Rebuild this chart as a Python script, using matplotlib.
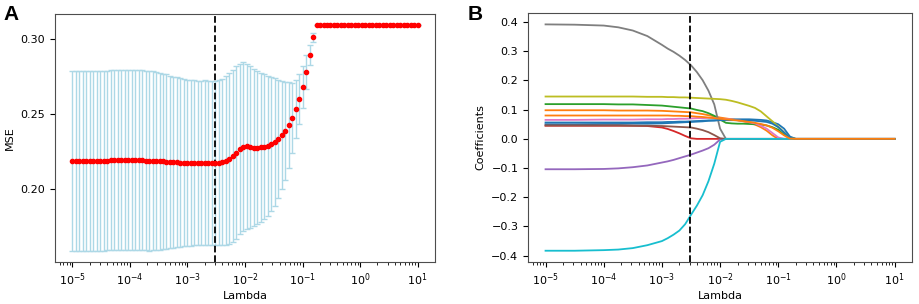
import matplotlib

matplotlib.use("Agg")
import matplotlib.pyplot as plt
import numpy as np

# ---- panel A: cross-validated MSE along the lambda path (100 log-spaced lambdas)
lambdas = np.logspace(-5, 1, 100)
mse_mean = [
    0.2190, 0.2190, 0.2190, 0.2190, 0.2190, 0.2190, 0.2190, 0.2190, 0.2191, 0.2191,
    0.2192, 0.2193, 0.2194, 0.2195, 0.2195, 0.2195, 0.2195, 0.2195, 0.2194, 0.2194,
    0.2193, 0.2192, 0.2191, 0.2190, 0.2189, 0.2188, 0.2186, 0.2185, 0.2183, 0.2181,
    0.2180, 0.2178, 0.2177, 0.2175, 0.2176, 0.2178, 0.2177, 0.2176, 0.2178, 0.2177,
    0.2176, 0.2176, 0.2177, 0.2182, 0.2192, 0.2205, 0.2222, 0.2245, 0.2268, 0.2282,
    0.2286, 0.2282, 0.2278, 0.2278, 0.2280, 0.2283, 0.2290, 0.2300, 0.2316, 0.2335,
    0.2360, 0.2388, 0.2427, 0.2475, 0.2534, 0.2600, 0.2678, 0.2781, 0.2893, 0.3007,
] + [0.3088] * 30
mse_err = [0.0596] * 23 + [
    0.0594, 0.0590, 0.0586, 0.0582, 0.0577, 0.0572, 0.0567, 0.0562, 0.0558,
    0.0554, 0.0551, 0.0548, 0.0546, 0.0545, 0.0545, 0.0545, 0.0545, 0.0545, 0.0545,
    0.0548, 0.0553, 0.0558, 0.0565, 0.0572, 0.0570, 0.0565, 0.0560, 0.0548, 0.0535,
    0.0522, 0.0508, 0.0495, 0.0480, 0.0465, 0.0445, 0.0425, 0.0390, 0.0359, 0.0322,
    0.0284, 0.0233, 0.0194, 0.0168, 0.0141, 0.0113, 0.0066, 0.0027,
] + [0.0] * 30
best_lambda = 0.00305

# ---- panel B: coefficient paths, read at these log10(lambda) positions
path_exp = [-5, -4.5, -4, -3.75, -3.5, -3.25, -3.0, -2.9, -2.8, -2.7, -2.6, -2.5,
            -2.4, -2.3, -2.2, -2.1, -2.0, -1.9, -1.8, -1.7, -1.6, -1.5, -1.4, -1.3,
            -1.2, -1.1, -1.0, -0.9, -0.8, -0.7, 1]
coef_paths = [
    # C0 blue
    [0.050, 0.050, 0.051, 0.051, 0.052, 0.052, 0.053, 0.054, 0.055, 0.056, 0.057, 0.058,
     0.059, 0.060, 0.062, 0.063, 0.065, 0.066, 0.067, 0.067, 0.067, 0.067, 0.066, 0.065,
     0.063, 0.057, 0.050, 0.035, 0.008, 0, 0],
    # C1 orange
    [0.098, 0.098, 0.098, 0.097, 0.097, 0.097, 0.096, 0.095, 0.094, 0.093, 0.092, 0.091,
     0.088, 0.085, 0.081, 0.077, 0.073, 0.070, 0.067, 0.064, 0.060, 0.055, 0.049, 0.040,
     0.028, 0.012, 0, 0, 0, 0, 0],
    # C2 green
    [0.119, 0.119, 0.119, 0.118, 0.118, 0.116, 0.114, 0.112, 0.110, 0.108, 0.106, 0.104,
     0.099, 0.095, 0.088, 0.079, 0.066, 0.055, 0.053, 0.052, 0.052, 0.051, 0.050, 0.049,
     0.046, 0.040, 0.031, 0.015, 0.002, 0, 0],
    # C3 red
    [0.045, 0.045, 0.045, 0.045, 0.045, 0.044, 0.039, 0.034, 0.027, 0.019, 0.010, 0.002,
     0, 0, 0, 0, 0, 0, 0, 0, 0, 0, 0, 0,
     0, 0, 0, 0, 0, 0, 0],
    # C4 purple
    [-0.104, -0.104, -0.103, -0.101, -0.097, -0.091, -0.081, -0.077, -0.072, -0.066,
     -0.060, -0.054, -0.047, -0.040, -0.032, -0.020, -0.002, 0, 0, 0, 0, 0, 0, 0,
     0, 0, 0, 0, 0, 0, 0],
    # C5 brown
    [0.046, 0.046, 0.046, 0.046, 0.045, 0.045, 0.044, 0.043, 0.042, 0.041, 0.040, 0.039,
     0.035, 0.030, 0.023, 0.013, 0.002, 0, 0, 0, 0, 0, 0, 0,
     0, 0, 0, 0, 0, 0, 0],
    # C6 pink
    [0.065, 0.065, 0.066, 0.066, 0.066, 0.067, 0.067, 0.068, 0.068, 0.069, 0.069, 0.070,
     0.071, 0.071, 0.072, 0.071, 0.069, 0.068, 0.066, 0.064, 0.061, 0.057, 0.053, 0.045,
     0.035, 0.020, 0.005, 0, 0, 0, 0],
    # C7 gray
    [0.392, 0.391, 0.388, 0.382, 0.371, 0.352, 0.322, 0.309, 0.298, 0.285, 0.270, 0.252,
     0.229, 0.201, 0.165, 0.118, 0.035, 0, 0, 0, 0, 0, 0, 0,
     0, 0, 0, 0, 0, 0, 0],
    # C8 olive
    [0.145, 0.145, 0.145, 0.145, 0.145, 0.144, 0.144, 0.143, 0.143, 0.142, 0.142, 0.141,
     0.140, 0.139, 0.138, 0.137, 0.136, 0.134, 0.130, 0.125, 0.119, 0.113, 0.106, 0.094,
     0.077, 0.060, 0.042, 0.022, 0.003, 0, 0],
    # C9 cyan
    [-0.383, -0.383, -0.381, -0.379, -0.374, -0.364, -0.350, -0.340, -0.328, -0.314,
     -0.292, -0.260, -0.229, -0.193, -0.145, -0.085, -0.010, 0, 0, 0, 0, 0, 0, 0,
     0, 0, 0, 0, 0, 0, 0],
    # C0 blue (second)
    [0.056, 0.056, 0.056, 0.056, 0.056, 0.057, 0.057, 0.058, 0.058, 0.059, 0.059, 0.060,
     0.061, 0.062, 0.063, 0.063, 0.064, 0.064, 0.064, 0.064, 0.063, 0.063, 0.062, 0.060,
     0.058, 0.052, 0.040, 0.022, 0.004, 0, 0],
    # C1 orange (second)
    [0.080, 0.080, 0.080, 0.080, 0.080, 0.080, 0.080, 0.080, 0.079, 0.079, 0.078, 0.078,
     0.076, 0.075, 0.073, 0.071, 0.069, 0.067, 0.065, 0.063, 0.061, 0.058, 0.055, 0.051,
     0.046, 0.038, 0.026, 0.012, 0.001, 0, 0],
]
decade_ticks = [1e-5, 1e-4, 1e-3, 1e-2, 1e-1, 1e0, 1e1]

plt.rcParams["font.size"] = 8
fig = plt.figure(figsize=(9.2, 3.04), dpi=100)
ax_a = fig.add_axes([0.0598, 0.138, 0.413, 0.816])
ax_b = fig.add_axes([0.574, 0.138, 0.4174, 0.819])

ax_a.errorbar(lambdas, mse_mean, yerr=mse_err, fmt="o", color="red", ms=3,
              ecolor="lightblue", elinewidth=1.0, capsize=2.5, capthick=1.0)
ax_a.axvline(best_lambda, color="black", linestyle="--", lw=1.3)
ax_a.set_xscale("log")
ax_a.set_ylabel("MSE")
ax_a.set_yticks([0.20, 0.25, 0.30])

path_lambdas = 10.0 ** np.array(path_exp)
for i, coefs in enumerate(coef_paths):
    ax_b.plot(path_lambdas, coefs, color=f"C{i % 10}", lw=1.3)
ax_b.axvline(best_lambda, color="black", linestyle="--", lw=1.3)
ax_b.set_xscale("log")
ax_b.set_ylabel("Coefficients")

for ax in (ax_a, ax_b):
    ax.set_xticks(decade_ticks)
    ax.set_xlabel("Lambda", labelpad=2)
    for spine in ax.spines.values():
        spine.set_color("0.3")

fig.text(0.004, 0.985, "A", fontsize=15, fontweight="bold", va="top",
         family="Liberation Sans")
fig.text(0.508, 0.985, "B", fontsize=15, fontweight="bold", va="top",
         family="Liberation Sans")

fig.savefig("out.png", dpi=100)
